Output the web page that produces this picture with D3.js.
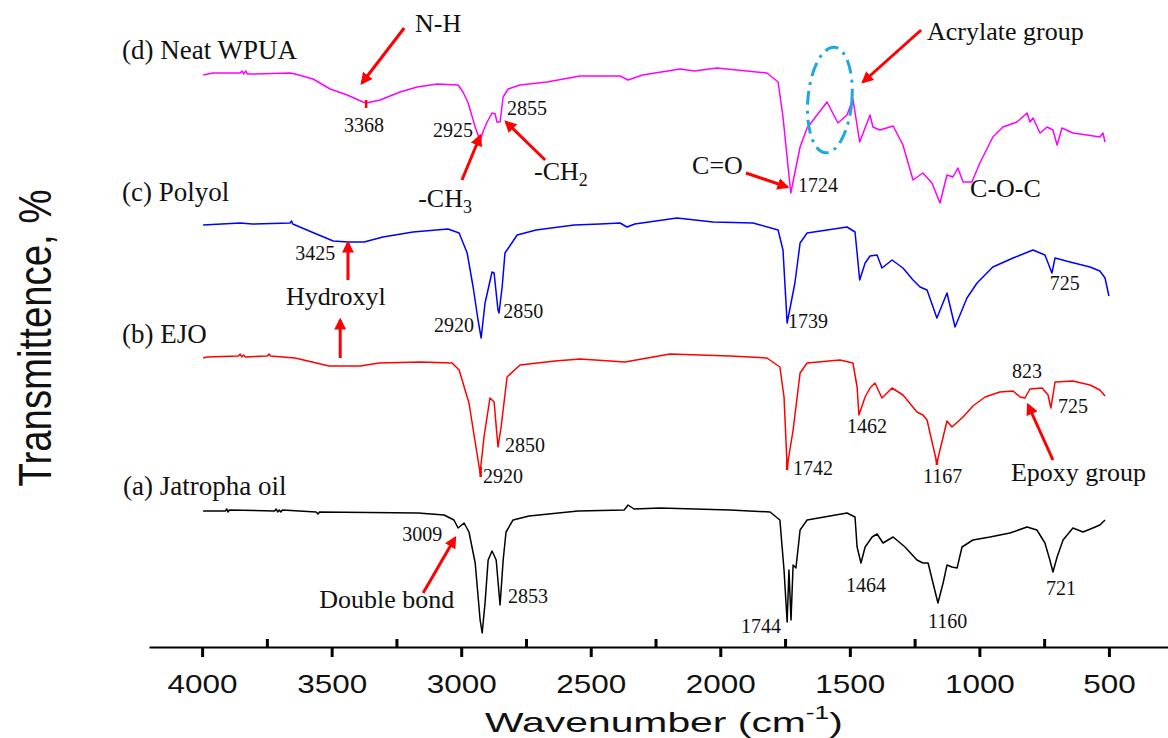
<!DOCTYPE html>
<html>
<head>
<meta charset="utf-8">
<script src="https://cdn.jsdelivr.net/npm/d3@7.9.0/dist/d3.min.js"></script>
<style>
  body { margin: 0; background: #fff; }
  svg { display: block; }
</style>
</head>
<body>
<svg id="chart" width="1168" height="738"></svg>
<script>
// FTIR spectra, [wavenumber (cm-1), stacked transmittance (a.u.)]
const neatWPUA = [
  [3996,572],[3958,574],[3853,574],[3846,576],[3840,573],[3832,576],[3825,573],[3807,573],
  [3660,574],[3641,573],[3572,568],[3506,558],[3440,552],[3379,545],[3367,544],[3313,547],
  [3236,555],[3170,560],[3093,563],[3012,562],[2993,555],[2973,544],[2946,520],[2935,512],
  [2927,506],[2915,516],[2900,525],[2881,534],[2869,533],[2862,525],[2850,525],[2838,550],
  [2819,558],[2773,562],[2669,565],[2541,571],[2387,571],[2356,567],[2300,572],[2155,578],
  [2100,576],[2013,579],[1820,574],[1777,565],[1758,530],[1728,454],[1692,500],[1665,519],
  [1588,545],[1546,524],[1511,532],[1488,548],[1462,505],[1422,532],[1411,520],[1384,517],
  [1333,521],[1295,502],[1256,467],[1218,474],[1183,464],[1152,444],[1125,472],[1102,470],
  [1083,479],[1063,465],[1029,465],[998,484],[948,510],[909,520],[855,525],[816,534],
  [805,525],[793,529],[766,514],[739,520],[716,517],[700,502],[681,519],[639,514],
  [585,512],[535,510],[523,514],[515,505]
];
const polyol = [
  [3996,422],[3853,424],[3807,423],[3660,424],[3655,426],[3650,423],[3641,422],[3568,414],
  [3494,406],[3437,405],[3375,405],[3302,410],[3186,415],[3051,418],[3008,414],[2977,394],
  [2954,360],[2935,327],[2923,309],[2908,344],[2881,375],[2873,374],[2858,337],[2854,334],
  [2842,360],[2831,394],[2784,412],[2711,417],[2564,422],[2464,423],[2387,424],[2360,420],
  [2330,423],[2167,429],[2028,425],[1874,424],[1777,417],[1758,397],[1742,324],[1712,364],
  [1692,404],[1665,414],[1511,420],[1480,415],[1472,394],[1462,367],[1441,384],[1422,391],
  [1395,392],[1376,379],[1337,387],[1295,379],[1256,367],[1229,360],[1202,357],[1164,329],
  [1125,354],[1094,320],[1048,349],[1009,364],[948,380],[870,389],[793,397],[747,392],
  [735,384],[720,374],[708,389],[650,385],[573,380],[535,376],[515,369],[500,351]
];
const ejo = [
  [3996,289],[3981,290],[3860,291],[3853,293],[3847,290],[3840,292],[3833,290],[3748,291],
  [3742,293],[3736,291],[3641,289],[3510,281],[3390,281],[3317,284],[3155,285],[3035,284],
  [3008,277],[2970,244],[2943,200],[2927,174],[2912,210],[2889,249],[2873,245],[2858,200],
  [2846,220],[2823,270],[2773,282],[2638,286],[2541,288],[2368,285],[2194,293],[1962,291],
  [1820,289],[1770,280],[1754,250],[1742,180],[1719,217],[1692,274],[1665,284],[1538,287],
  [1488,284],[1472,260],[1465,232],[1441,250],[1422,259],[1403,264],[1376,249],[1337,259],
  [1295,252],[1241,235],[1218,232],[1202,227],[1164,184],[1140,210],[1125,226],[1106,220],
  [1063,230],[1025,241],[978,250],[921,255],[870,256],[843,250],[824,249],[805,258],
  [758,259],[735,252],[724,239],[708,265],[639,266],[573,262],[535,257],[515,251]
];
const jatropha = [
  [3996,136],[3910,136],[3905,138],[3900,135],[3895,137],[3720,136],[3714,138],[3708,135],
  [3702,137],[3696,135],[3690,137],[3560,135],[3553,133],[3547,135],[3166,134],[3066,132],
  [3028,127],[3012,119],[2989,124],[2970,115],[2946,84],[2927,27],[2919,14],[2908,44],
  [2896,87],[2881,96],[2865,87],[2850,42],[2838,87],[2827,115],[2800,127],[2738,131],
  [2549,136],[2371,137],[2356,142],[2333,138],[2232,139],[1962,137],[1808,135],[1770,127],
  [1754,77],[1742,25],[1735,77],[1727,27],[1719,82],[1708,79],[1692,117],[1665,127],
  [1511,134],[1480,130],[1472,100],[1457,84],[1441,100],[1414,110],[1395,113],[1372,104],
  [1333,110],[1287,100],[1241,87],[1218,84],[1198,84],[1179,64],[1160,44],[1140,64],
  [1125,82],[1106,80],[1086,79],[1067,100],[1025,107],[959,110],[882,114],[816,120],
  [778,117],[747,104],[728,87],[716,75],[700,90],[677,107],[639,119],[600,115],
  [562,119],[535,122],[515,127]
];

const seriesColors = ['#ff00ff', '#0000ff', '#ff0000', '#000000'];
const majorTicks = [4000, 3500, 3000, 2500, 2000, 1500, 1000, 500];
const minorTicks = [3750, 3250, 2750, 2250, 1750, 1250, 750];

// sample names: [text, wavenumber, T]
const sampleNames = [
  ['(d) Neat WPUA', 4309, 588],
  ['(c) Polyol', 4309, 446],
  ['(b) EJO', 4309, 304],
  ['(a) Jatropha oil', 4305, 152]
];
// peak numbers: [text, wavenumber, T]
const peakNumbers = [
  ['3368', 3452, 515], ['2925', 3109, 510], ['2855', 2823, 532], ['1724', 1700, 455],
  ['3425', 3641, 387], ['2920', 3105, 315], ['2850', 2838, 329], ['1739', 1739, 319], ['725', 728, 357],
  ['2850', 2831, 195], ['2920', 2916, 164], ['1742', 1719, 172], ['1462', 1511, 214],
  ['1167', 1218, 164], ['823', 874, 269], ['725', 697, 234],
  ['3009', 3228, 106], ['2853', 2819, 44], ['1744', 1920, 14], ['1464', 1515, 55],
  ['1160', 1198, 19], ['721', 743, 52]
];
// group notes: [text, subscript, wavenumber, T]
const groupNotes = [
  ['N-H', '', 3178, 615], ['Acrylate group', '', 1202, 607], ['-CH', '3', 3166, 440],
  ['-CH', '2', 2719, 467], ['C=O', '', 2109, 473], ['C-O-C', '', 1036, 450],
  ['Hydroxyl', '', 3676, 342], ['Epoxy group', '', 878, 166], ['Double bond', '', 3548, 39]
];
// arrows: [wnFrom, tFrom, wnTo, tTo]
const arrows = [
  [3220, 619, 3383, 564], [2997, 467, 2927, 511], [2676, 487, 2827, 525],
  [1901, 474, 1742, 460], [1225, 617, 1449, 565], [3437, 367, 3437, 404],
  [3467, 289, 3467, 327], [716, 187, 812, 242], [3147, 54, 3024, 109]
];
// red peak marks: [wavenumber, tTop, tBottom]
const peakMarks = [[3367, 547, 539], [2925, 180, 170], [1742, 186, 177], [1164, 188, 182]];

const svg = d3.select('#chart');
const x = d3.scaleLinear().domain([4205, 272]).range([149, 1168]);
const y = d3.scaleLinear().domain([0, 600]).range([647, 47]);

const defs = svg.append('defs');
defs.append('marker')
  .attr('id', 'head')
  .attr('viewBox', '0 0 10 10')
  .attr('refX', 8).attr('refY', 5)
  .attr('markerWidth', 4).attr('markerHeight', 4)
  .attr('orient', 'auto')
  .append('path').attr('d', 'M0,0L10,5L0,10z').attr('fill', '#ff0000');

// spectra
const line = d3.line().x(d => x(d[0])).y(d => y(d[1]));
[neatWPUA, polyol, ejo, jatropha].forEach((s, i) => {
  svg.append('path')
    .datum(s)
    .attr('d', line)
    .attr('fill', 'none')
    .attr('stroke', seriesColors[i])
    .attr('stroke-width', 1.5)
    .attr('stroke-linejoin', 'round');
});

// x axis
const axis = svg.append('g')
  .attr('transform', 'translate(0,647)')
  .call(d3.axisBottom(x).tickValues(majorTicks).tickSize(10).tickSizeOuter(0).tickPadding(18).tickFormat(d3.format('d')));
axis.select('.domain').attr('stroke-width', 2);
axis.selectAll('.tick line').attr('stroke-width', 3);
axis.selectAll('.tick text')
  .attr('font-family', 'Liberation Sans, Arial, sans-serif')
  .attr('font-size', 25)
  .attr('fill', '#111')
  .attr('textLength', d => String(d).length * 17.5)
  .attr('lengthAdjust', 'spacingAndGlyphs');

const minor = svg.append('g')
  .attr('transform', 'translate(0,647)')
  .call(d3.axisBottom(x).tickValues(minorTicks).tickSize(-8).tickFormat(''));
minor.select('.domain').remove();
minor.selectAll('.tick line').attr('stroke-width', 3);

// axis titles
const xt = svg.append('text')
  .attr('transform', 'translate(485,732) scale(1.46,1)')
  .attr('font-family', 'Liberation Sans, Arial, sans-serif')
  .attr('font-size', 28)
  .attr('fill', '#111');
xt.append('tspan').text('Wavenumber (cm');
xt.append('tspan').attr('font-size', 18).attr('dy', -13).text('-1');
xt.append('tspan').attr('dy', 13).text(')');

svg.append('text')
  .attr('transform', 'translate(51,338) rotate(-90)')
  .attr('text-anchor', 'middle')
  .attr('font-family', 'Liberation Sans, Arial, sans-serif')
  .attr('font-size', 46)
  .attr('fill', '#111')
  .attr('textLength', 297)
  .attr('lengthAdjust', 'spacingAndGlyphs')
  .text('Transmittence, %');

// annotations
const serif = 'Liberation Serif, Times New Roman, serif';
svg.selectAll('.name').data(sampleNames).join('text')
  .attr('x', d => x(d[1])).attr('y', d => y(d[2]))
  .attr('font-family', serif).attr('font-size', 27).attr('fill', '#111')
  .text(d => d[0]);

svg.selectAll('.peak').data(peakNumbers).join('text')
  .attr('x', d => x(d[1])).attr('y', d => y(d[2]))
  .attr('font-family', serif).attr('font-size', 20).attr('fill', '#111')
  .text(d => d[0]);

const notes = svg.selectAll('.note').data(groupNotes).join('text')
  .attr('x', d => x(d[2])).attr('y', d => y(d[3]))
  .attr('font-family', serif).attr('font-size', 26).attr('fill', '#111');
notes.append('tspan').text(d => d[0]);
notes.append('tspan').attr('font-size', 18).attr('dy', 6).text(d => d[1]);

svg.selectAll('.arrow').data(arrows).join('line')
  .attr('x1', d => x(d[0])).attr('y1', d => y(d[1]))
  .attr('x2', d => x(d[2])).attr('y2', d => y(d[3]))
  .attr('stroke', '#ff0000').attr('stroke-width', 3)
  .attr('marker-end', 'url(#head)');

svg.selectAll('.mark').data(peakMarks).join('line')
  .attr('x1', d => x(d[0])).attr('x2', d => x(d[0]))
  .attr('y1', d => y(d[1])).attr('y2', d => y(d[2]))
  .attr('stroke', '#ff0000').attr('stroke-width', 2.5);

// acrylate region highlight
const cx = x(1577), cy = y(547);
svg.append('ellipse')
  .attr('cx', cx).attr('cy', cy).attr('rx', 22).attr('ry', 53)
  .attr('transform', `rotate(5,${cx},${cy})`)
  .attr('fill', 'none')
  .attr('stroke', '#1ea7e1')
  .attr('stroke-width', 3)
  .attr('stroke-dasharray', '14,6,3,6');
</script>
</body>
</html>
